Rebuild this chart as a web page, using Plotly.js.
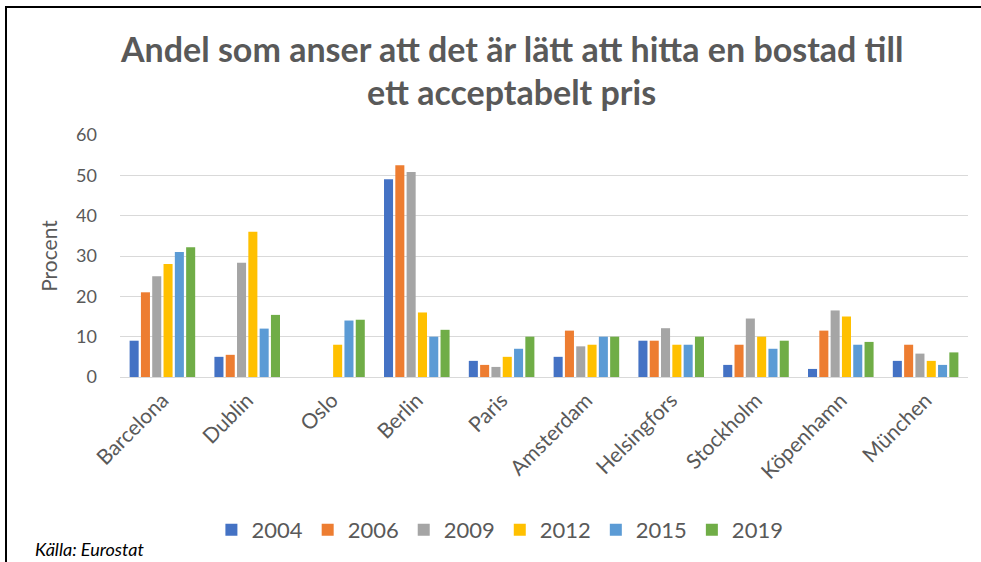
<!DOCTYPE html>
<html>
<head>
<meta charset="utf-8">
<script src="https://cdn.plot.ly/plotly-3.0.1.min.js"></script>
<style>
html,body{margin:0;padding:0;background:#fff;}
#wrap{position:relative;width:981px;height:562px;overflow:hidden;}
#chart{position:absolute;left:0;top:0;width:981px;height:562px;}
#frame{position:absolute;left:5px;top:6px;width:990px;height:600px;border-left:2px solid #000;border-top:2px solid #000;pointer-events:none;}
</style>
</head>
<body>
<div id="wrap"><div id="chart"></div><div id="frame"></div></div>
<script>
const cities = ['Barcelona','Dublin','Oslo','Berlin','Paris','Amsterdam','Helsingfors','Stockholm','Köpenhamn','München'];
const years = ['2004','2006','2009','2012','2015','2019'];
const v2004 = [9, 5, null, 49, 4, 5, 9, 3, 2, 4];
const v2006 = [21, 5.5, null, 52.5, 3, 11.5, 9, 8, 11.5, 8];
const v2009 = [25, 28.3, null, 50.8, 2.5, 7.6, 12.1, 14.5, 16.5, 5.8];
const v2012 = [28, 36, 8, 16, 5, 8, 8, 10, 15, 4];
const v2015 = [31, 12, 14, 10, 7, 10, 8, 7, 8, 3];
const v2019 = [32.2, 15.4, 14.2, 11.7, 10, 10, 10, 9, 8.7, 6.1];
const seriesValues = [v2004, v2006, v2009, v2012, v2015, v2019];
const colors = ['#4472C4','#ED7D31','#A5A5A5','#FFC000','#5B9BD5','#70AD47'];

const font = 'Lato, "Open Sans", sans-serif';
const traces = years.map((y, i) => ({
  type: 'bar',
  name: y,
  x: cities,
  y: seriesValues[i],
  marker: {color: colors[i]},
  hoverinfo: 'x+y+name'
}));

const layout = {
  width: 981, height: 562,
  margin: {l: 120, r: 13, t: 135, b: 184},
  paper_bgcolor: '#fff', plot_bgcolor: '#fff',
  barmode: 'group', bargap: 0.2, bargroupgap: 0.2,
  font: {family: font, color: '#595959'},
  showlegend: true,
  legend: {orientation: 'h', x: 0.448, xanchor: 'center', y: -(530-378)/243, yanchor: 'middle',
           font: {size: 22, color: '#595959', family: font}, itemwidth: 30, traceorder: 'normal'},
  xaxis: {type: 'category', tickangle: -45, tickfont: {size: 21, color: '#595959', family: font},
          showgrid: false, showline: false, ticks: '', zeroline: false, automargin: false,
          ticklabelstandoff: 6},
  yaxis: {range: [0, 60], dtick: 10, tickfont: {size: 18, color: '#595959', family: font},
          gridcolor: '#d9d9d9', gridwidth: 1, zeroline: true, zerolinecolor: '#d9d9d9', zerolinewidth: 1,
          ticks: '', showline: false, ticklabelstandoff: 22, automargin: false,
          title: {text: 'Procent', font: {size: 21, color: '#595959', family: font}, standoff: 12}},
  annotations: [
    {text: '<b>Andel som anser att det är lätt att hitta en bostad till</b>', xref: 'paper', yref: 'paper',
     x: (511-120)/848, y: 1 + (135-48)/243, xanchor: 'center', yanchor: 'middle', showarrow: false,
     font: {size: 34, color: '#595959', family: font}},
    {text: '<b>ett acceptabelt pris</b>', xref: 'paper', yref: 'paper',
     x: (511-120)/848, y: 1 + (135-91)/243, xanchor: 'center', yanchor: 'middle', showarrow: false,
     font: {size: 34, color: '#595959', family: font}},
    {text: '<i>Källa: Eurostat</i>', xref: 'paper', yref: 'paper',
     x: (33-120)/848, y: -(551-378)/243, xanchor: 'left', yanchor: 'middle', showarrow: false,
     font: {size: 18, color: '#000', family: font}}
  ]
};

Plotly.newPlot('chart', traces, layout, {displayModeBar: false, staticPlot: true});
</script>
</body>
</html>
